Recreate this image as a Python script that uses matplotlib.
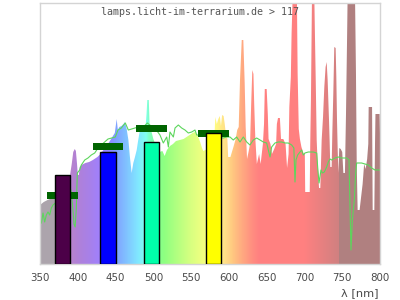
import numpy as np
import matplotlib
matplotlib.use("Agg")
import matplotlib.pyplot as plt
from matplotlib.colors import LinearSegmentedColormap
from matplotlib.patches import Polygon

# ---- data (relative intensity, arbitrary units; axis top = 261) ----
spec_nm = [350, 355, 360, 367, 372, 380, 388, 391, 392, 394, 396, 397.5, 399, 400, 401.5, 402.5,
           405, 410, 415, 420, 426,
           430, 440, 449, 451.5, 453, 455, 458, 460.5, 462.5, 464.7, 467, 469, 471.3, 473.5, 475.7, 478,
           480, 482.3, 484.5, 487, 490, 491, 492, 494, 495, 500, 505, 508, 512, 515, 518, 522, 526, 530,
           535, 540, 544, 548, 552, 555, 557, 560, 562, 564, 566, 572, 578, 581, 582, 584, 586, 588, 589.5,
           591, 593, 594.5, 596, 598, 599, 602, 604, 606, 609, 611, 613, 614.7, 617, 619.1, 620.9,
           622.2, 624, 626, 628, 629.5, 631,
           632.5, 633.5, 635, 637, 640, 642, 645, 646.5, 647.5, 650, 651.5, 652.5, 655, 657, 660, 662.5,
           663.5, 665, 667.5, 669, 672, 675, 677, 679, 680, 682, 683, 684.5, 690, 691, 692.5, 694, 696, 699,
           700.5, 701, 707, 707.7, 708.6, 710, 713, 714, 715, 716.2, 717.5, 719.3, 721, 722.8, 724.6, 726.3,
           728, 729.4, 730.7, 731.6, 732.5, 733.4, 734.2, 736, 736.9, 738.2, 739.5, 741.3, 742.2, 743.1, 744,
           744.9, 746.1, 748, 750, 751.5, 753.6, 755, 756.5, 757.2, 766.9, 768.2, 769.2, 770.4, 773, 775,
           777, 779, 781, 783, 784.5, 785, 789.5, 790.3, 792.5, 793.4, 794, 799.5, 800]
spec_val = [59, 62, 64, 66, 68, 72, 80, 95, 100, 112, 115, 113, 100, 89, 89, 97,
            99, 101, 102, 104, 107,
            110, 120, 131, 145, 134, 137, 138, 140, 142, 135, 124, 107, 91, 101, 107, 114,
            124, 134, 134, 138, 140, 150, 164, 164, 140, 125, 115, 112, 113, 108, 114, 118, 120, 123,
            124, 125, 127, 129, 131, 132, 130, 126, 122, 117, 113, 115, 120, 130, 147, 140, 145, 148, 138,
            149, 148, 140, 130, 125, 107, 107, 112, 117, 125, 134, 137, 184, 224, 224, 181,
            137, 105, 112, 120, 160, 194,
            190, 160, 125, 100, 110, 100, 120, 140, 175, 175, 150, 125, 120, 110, 115, 120,
            140, 146, 146, 125, 125, 120, 96, 110, 157, 187, 231, 270, 270, 190, 135, 125, 117, 110,
            110, 72, 72, 121, 164, 270, 270, 224, 181, 124, 100, 76, 76, 124, 147, 177,
            197, 202, 184, 164, 144, 121, 97, 97, 131, 171, 217, 216, 187, 144, 114,
            91, 116, 115, 112, 91, 91, 150, 230, 270, 270, 190, 100, 54, 54, 67,
            80, 100, 95, 105, 120, 157, 157, 54, 54, 120, 150, 150, 130]

sun_nm = [351.8, 354, 356.2, 358.4, 360.6, 362.8, 365, 367.2, 372, 380, 388, 391, 393, 395, 396.5, 398,
          399.4, 402.5, 404.7, 409.2, 413.5, 417.9, 422.4, 426.8, 440, 449.7, 453.2, 457.6, 462.9, 466.9,
          471.3, 475.7, 480.1, 484.6, 492, 497, 503, 508.8, 513.2, 517.7, 519.9, 522, 526.5, 528.7, 533.1,
          537.5, 541.9, 546.3, 550.8, 555.1, 557.4, 575, 592.6, 597, 601.5, 605.8, 610.3, 614.7, 619.1,
          623.6, 627.9, 632.3, 636.8, 641.2, 645.6, 650, 654.4, 656.6, 661, 665.4, 669.9, 674.2, 678.6,
          683.1, 686, 687.5, 688.8, 691, 694.1, 696.3, 698.5, 700.7, 705.1, 711.7, 716.2, 717.5, 719.3,
          721.9, 723.7, 726.3, 729.4, 731.6, 733.8, 736, 740.4, 744.8, 749.3, 755.9, 759, 760.3, 761.6,
          763.4, 766, 767.8, 769.1, 775.7, 784.5, 788.9, 793.4, 800]
sun_val = [41, 51, 42, 49, 52, 49, 56, 59, 62, 60, 66, 74, 60, 40, 37, 55,
           91, 94, 99, 104, 106, 109, 111, 116, 125, 127, 134, 136, 141, 134,
           135, 136, 137, 135, 141, 138, 135, 129, 121, 127, 117, 132, 127, 136, 139,
           136, 134, 131, 132, 134, 129, 128, 126, 127, 127, 124, 127, 122, 127,
           122, 119, 124, 126, 124, 122, 121, 107, 117, 121, 122, 122, 121, 121,
           119, 116, 82, 104, 109, 112, 114, 109, 111, 112, 112, 111, 97, 81,
           94, 91, 92, 97, 102, 105, 104, 106, 107, 106, 106, 104, 57, 14,
           44, 64, 91, 101, 101, 99, 96, 94, 94]

lamp_centers = [380, 440, 498, 580]
lamp_heights = [89, 111.6, 121.6, 131]
lamp_colors = ['#4c0048', '#0000ff', '#00ffaa', '#ffff00']
ref_levels = [68.5, 117.7, 135.7, 130.7]

xticks = [350, 400, 450, 500, 550, 600, 650, 700, 750, 800]
title = "lamps.licht-im-terrarium.de > 117"

# ---- colour gradient of the spectrum (style) ----
stops = [(350, '#aca4ac'), (382, '#aca4ac'), (390, '#b884cc'), (400, '#b080d8'), (415, '#a880e8'),
         (430, '#a080ff'), (445, '#8c90ff'), (450, '#80a0ff'), (460, '#80b8ff'), (470, '#80d0ff'),
         (480, '#80e8ff'), (490, '#80fff0'), (495, '#80ffc0'), (505, '#80ff90'), (515, '#90ff80'),
         (530, '#b0ff80'), (550, '#d8ff80'), (565, '#f0ff80'), (580, '#ffff80'), (595, '#ffe088'),
         (605, '#ffc880'), (615, '#ffb080'), (630, '#ff9080'), (640, '#ff8080'), (700, '#ff8080'),
         (745.5, '#d08080'), (746, '#b08080'), (800, '#b08080')]
cmap = LinearSegmentedColormap.from_list(
    'spec', [((w - 350) / 450, c) for w, c in stops], N=900)

fig = plt.figure(figsize=(4, 3), dpi=100)
ax = fig.add_axes([0.1, 0.12, 0.85, 0.87])
ax.set_xlim(350, 800)
ax.set_ylim(0, 261)

grad = np.linspace(0, 1, 900).reshape(1, -1)
im = ax.imshow(grad, cmap=cmap, extent=[350, 800, 0, 300], aspect='auto',
               origin='lower', zorder=1, interpolation='nearest')
verts = [(350, 0)] + list(zip(spec_nm, spec_val)) + [(800, 0)]
poly = Polygon(verts, closed=True, facecolor='none', edgecolor='none')
ax.add_patch(poly)
im.set_clip_path(poly)

ax.plot(sun_nm, sun_val, color='#5cd65c', lw=0.8, zorder=2)

ax.bar(lamp_centers, [6.5] * 4, bottom=[v - 3.25 for v in ref_levels], width=41,
       color='#006400', zorder=3)
ax.bar(lamp_centers, lamp_heights, width=20, color=lamp_colors, edgecolor='black',
       linewidth=1, zorder=4)

ax.set_xticks(xticks)
ax.set_xticklabels([str(t) for t in xticks], fontfamily='DejaVu Sans', fontsize=7.4, color='#4a4a4a')
ax.set_yticks([])
ax.tick_params(axis='x', length=0, pad=6.5)
for s in ax.spines.values():
    s.set_color('#d4d4d4')
    s.set_linewidth(1)

fig.text(0.5, 1 - 12 / 300, title, ha='center', va='center',
         fontfamily='DejaVu Sans Mono', fontsize=7.2, color='#555555', zorder=5)

ax.set_xlabel('λ [nm]', fontfamily='DejaVu Sans', fontsize=8.2, color='#4a4a4a', ha='right', va='center')
ax.xaxis.set_label_coords(0.997, -0.112)

fig.savefig('out.png', dpi=100)
